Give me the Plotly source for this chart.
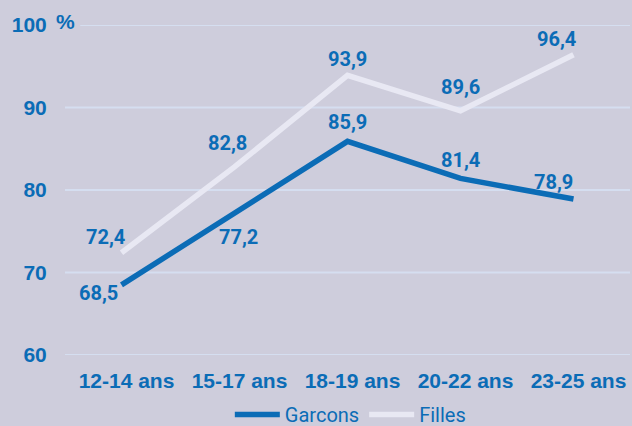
import plotly.graph_objects as go

categories = ["12-14 ans", "15-17 ans", "18-19 ans", "20-22 ans", "23-25 ans"]
garcons = [68.5, 77.2, 85.9, 81.4, 78.9]
filles = [72.4, 82.8, 93.9, 89.6, 96.4]
y_ticks = [60, 70, 80, 90, 100]
y_ticktext = ["60", "70", "80", "90", "100"]

BLUE = "#0B6CB6"
LIGHT = "#E8E8F3"
BG = "#CECDDC"
GRID = "#D5DEF0"
LBL_FONT = "Roboto"

fig = go.Figure()
fig.add_trace(go.Scatter(x=categories, y=garcons, mode="lines", name="Garcons",
                         line=dict(color=BLUE, width=5.5)))
fig.add_trace(go.Scatter(x=categories, y=filles, mode="lines", name="Filles",
                         line=dict(color=LIGHT, width=5.5)))

# gridlines
for v in y_ticks:
    fig.add_shape(type="line", xref="paper", yref="y", x0=(0.027 if v == 100 else 0), x1=1,
                  y0=v, y1=v, line=dict(color=GRID, width=2), layer="below")

fig.add_annotation(xref="paper", yref="y", x=0, y=100, text="%", showarrow=False,
                   xanchor="left", yanchor="middle", xshift=-11, yshift=4,
                   font=dict(family="Liberation Sans", size=21, color=BLUE, weight="bold"))

g_off = [(-23, -8), (4, -24), (0, 19), (0, 18), (-20, 17)]
f_off = [(-16, 16), (-7, 24), (0, 16), (0, 24), (-17, 16)]
for c, v, (dx, dy) in zip(categories, garcons, g_off):
    fig.add_annotation(x=c, y=v, text=f"{v:.1f}".replace(".", ","), showarrow=False,
                       xshift=dx, yshift=dy,
                       font=dict(family=LBL_FONT, size=20, color=BLUE, weight="bold"))
for c, v, (dx, dy) in zip(categories, filles, f_off):
    fig.add_annotation(x=c, y=v, text=f"{v:.1f}".replace(".", ","), showarrow=False,
                       xshift=dx, yshift=dy,
                       font=dict(family=LBL_FONT, size=20, color=BLUE, weight="bold"))

fig.update_layout(
    width=632, height=426,
    margin=dict(l=65, r=2, t=25, b=71, autoexpand=False),
    paper_bgcolor=BG, plot_bgcolor=BG,
    showlegend=True,
    legend=dict(orientation="h", x=0.505, xanchor="center", y=-0.18, yanchor="middle",
                font=dict(family=LBL_FONT, size=20, color=BLUE),
                itemwidth=45, bgcolor="rgba(0,0,0,0)"),
    xaxis=dict(type="category", range=[-0.5, 4.5], showgrid=False, zeroline=False,
               showline=False, ticks="", ticklabelstandoff=11, ticklabelshift=5,
               tickfont=dict(family="Liberation Sans", size=21, color=BLUE, weight="bold")),
    yaxis=dict(range=[60, 100], tickvals=y_ticks, ticktext=y_ticktext, showgrid=False,
               zeroline=False, showline=False, ticks="outside", ticklen=13,
               tickcolor="rgba(0,0,0,0)",
               tickfont=dict(family="Liberation Sans", size=21, color=BLUE, weight="bold")),
)

fig.write_html("out.html", config={"displayModeBar": False},
               post_script="document.body.style.margin='0px';")
